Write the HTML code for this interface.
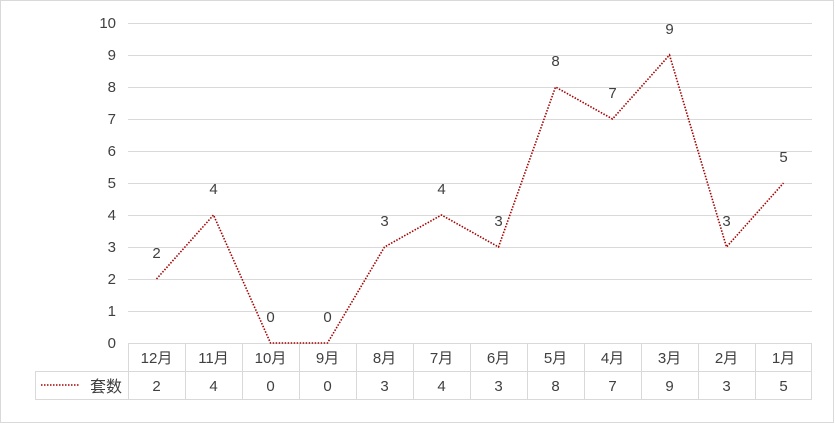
<!DOCTYPE html>
<html><head><meta charset="utf-8"><style>
html,body{margin:0;padding:0;background:#fff}
svg{display:block}
text{font-family:"Liberation Sans","Noto Sans CJK SC",sans-serif;fill:#404040;font-size:15px}
</style></head><body>
<svg width="835" height="424" xmlns="http://www.w3.org/2000/svg">
<rect x="0.5" y="0.5" width="833" height="422" fill="#fff" stroke="#d9d9d9"/>
<g stroke="#d9d9d9" stroke-width="1">
<line x1="128" y1="23.5" x2="812" y2="23.5"/>
<line x1="128" y1="55.5" x2="812" y2="55.5"/>
<line x1="128" y1="87.5" x2="812" y2="87.5"/>
<line x1="128" y1="119.5" x2="812" y2="119.5"/>
<line x1="128" y1="151.5" x2="812" y2="151.5"/>
<line x1="128" y1="183.5" x2="812" y2="183.5"/>
<line x1="128" y1="215.5" x2="812" y2="215.5"/>
<line x1="128" y1="247.5" x2="812" y2="247.5"/>
<line x1="128" y1="279.5" x2="812" y2="279.5"/>
<line x1="128" y1="311.5" x2="812" y2="311.5"/>
<line x1="128" y1="343.5" x2="812" y2="343.5"/>
<line x1="35" y1="371.5" x2="812" y2="371.5"/>
<line x1="35" y1="399.5" x2="812" y2="399.5"/>
<line x1="35.5" y1="371" x2="35.5" y2="400"/>
<line x1="128.5" y1="343" x2="128.5" y2="400"/>
<line x1="185.5" y1="343" x2="185.5" y2="400"/>
<line x1="242.5" y1="343" x2="242.5" y2="400"/>
<line x1="299.5" y1="343" x2="299.5" y2="400"/>
<line x1="356.5" y1="343" x2="356.5" y2="400"/>
<line x1="413.5" y1="343" x2="413.5" y2="400"/>
<line x1="470.5" y1="343" x2="470.5" y2="400"/>
<line x1="527.5" y1="343" x2="527.5" y2="400"/>
<line x1="584.5" y1="343" x2="584.5" y2="400"/>
<line x1="641.5" y1="343" x2="641.5" y2="400"/>
<line x1="698.5" y1="343" x2="698.5" y2="400"/>
<line x1="755.5" y1="343" x2="755.5" y2="400"/>
<line x1="811.5" y1="343" x2="811.5" y2="400"/>
</g>
<g text-anchor="end">
<text x="116" y="28">10</text><text x="116" y="60">9</text><text x="116" y="92">8</text>
<text x="116" y="124">7</text><text x="116" y="156">6</text><text x="116" y="188">5</text>
<text x="116" y="220">4</text><text x="116" y="252">3</text><text x="116" y="284">2</text>
<text x="116" y="316">1</text><text x="116" y="348">0</text>
</g>
<polyline fill="none" stroke="#a50000" stroke-width="1.6" stroke-dasharray="1.5,1.5"
points="156.5,279 213.5,215 270.5,343 327.5,343 384.5,247 441.5,215 498.5,247 555.5,87 612.5,119 669.5,55 726.5,247 783.5,183"/>
<g text-anchor="middle">
<text x="156.5" y="258">2</text><text x="213.5" y="194">4</text><text x="270.5" y="322">0</text>
<text x="327.5" y="322">0</text><text x="384.5" y="226">3</text><text x="441.5" y="194">4</text>
<text x="498.5" y="226">3</text><text x="555.5" y="66">8</text><text x="612.5" y="98">7</text>
<text x="669.5" y="34">9</text><text x="726.5" y="226">3</text><text x="783.5" y="162">5</text>
<text x="156.5" y="363">12月</text><text x="213.5" y="363">11月</text><text x="270.5" y="363">10月</text>
<text x="327.5" y="363">9月</text><text x="384.5" y="363">8月</text><text x="441.5" y="363">7月</text>
<text x="498.5" y="363">6月</text><text x="555.5" y="363">5月</text><text x="612.5" y="363">4月</text>
<text x="669.5" y="363">3月</text><text x="726.5" y="363">2月</text><text x="783.5" y="363">1月</text>
<text x="156.5" y="391">2</text><text x="213.5" y="391">4</text><text x="270.5" y="391">0</text>
<text x="327.5" y="391">0</text><text x="384.5" y="391">3</text><text x="441.5" y="391">4</text>
<text x="498.5" y="391">3</text><text x="555.5" y="391">8</text><text x="612.5" y="391">7</text>
<text x="669.5" y="391">9</text><text x="726.5" y="391">3</text><text x="783.5" y="391">5</text>
</g>
<line x1="41" y1="385" x2="79" y2="385" stroke="#a50000" stroke-width="1.6" stroke-dasharray="1.5,1.5"/>
<text x="90" y="392" style="font-size:16px">套数</text>
</svg>
</body></html>
